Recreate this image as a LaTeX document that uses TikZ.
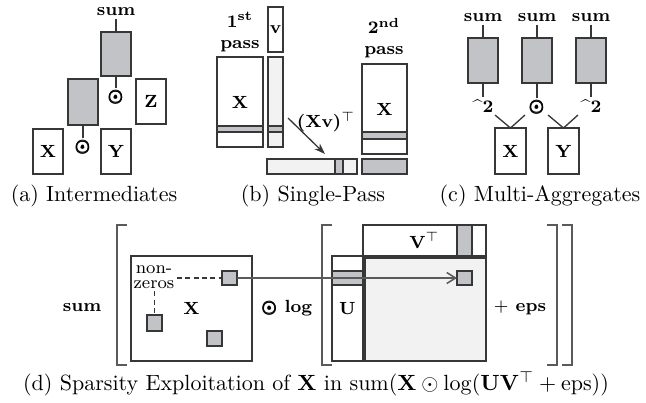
\documentclass[tikz,border=0pt]{standalone}
\usepackage{amsmath}
\usepackage{bm}
\usetikzlibrary{arrows.meta}
\definecolor{lc}{RGB}{55,55,55}
\definecolor{gf}{RGB}{194,195,199}
\definecolor{lf}{RGB}{241,242,241}
\definecolor{ac}{RGB}{90,90,90}
\def\pxu{0.4545pt}
\newcommand\boxat[6]{\node[#1, minimum width={(#4-#2)*\pxu}, minimum height={(#5-#3)*\pxu}] (#6) at ({(#2+#4)/2},{(#3+#5)/2})}
\newcommand\bodot{{\scriptsize$\pmb{\bm{\odot}}$}}
\tikzset{
  wbx/.style={draw=lc, line width=0.6pt, fill=white, inner sep=0pt, outer sep=0pt, font=\footnotesize\bfseries},
  gbx/.style={wbx, fill=gf},
  lbx/.style={wbx, fill=lf},
  lbl/.style={font=\footnotesize\bfseries, inner sep=1pt},
  conn/.style={draw=lc, line width=0.6pt},
  captxt/.style={font=\normalsize, inner sep=0pt},
  brk/.style={draw=ac, line width=0.6pt},
}
\begin{document}
\begin{tikzpicture}[x=\pxu, y=-\pxu]
\useasboundingbox (0,0) rectangle (646,402);
% ---------- (a) ----------
\node[lbl] (sumA) at (116,12) {sum};
\boxat{gbx}{101}{32}{131}{76}{gA1} {};
\node[lbl] (opA1) at (116,97) {\bodot};
\boxat{wbx}{136}{79}{166}{124}{zA} {Z};
\boxat{gbx}{68}{79}{98}{125}{gA2} {};
\node[lbl] (opA2) at (83,147) {\bodot};
\boxat{wbx}{33}{129}{63}{174}{xA} {X};
\boxat{wbx}{101}{129}{131}{174}{yA} {Y};
\draw[conn] (sumA.south) -- (gA1.north);
\draw[conn] (gA1.south) -- (opA1.north);
\draw[conn] (gA2.south) -- (opA2.north);
\node[captxt] (capA) at (94,196) {(a) Intermediates};
% ---------- (b) ----------
\node[lbl, align=center] (p1) at (240,32) {1\textsuperscript{st}\\pass};
\boxat{wbx}{268}{7}{283}{52}{vB} {v};
\boxat{wbx}{217}{57}{263}{147}{x1B} {X};
\boxat{gbx}{217}{126}{263}{132}{b1B} {};
\boxat{lbx}{268}{57}{283}{147}{vcB} {};
\boxat{gbx}{268}{126}{283}{132}{b2B} {};
\boxat{lbx}{267}{159}{357}{174}{rB} {};
\boxat{gbx}{335}{159}{343}{174}{b3B} {};
\boxat{wbx}{362}{64}{407}{154}{x2B} {X};
\boxat{gbx}{362}{132}{407}{139}{b4B} {};
\boxat{gbx}{362}{159}{407}{174}{dB} {};
\node[lbl, align=center] (p2) at (384,38) {2\textsuperscript{nd}\\pass};
\node[lbl] (xvB) at (326,122) {(Xv)$^{\top}$};
\coordinate (aS) at (288,118);
\coordinate (aE) at (325,154);
\draw[conn, -{Stealth[length=5pt, width=3.5pt]}] (aS) -- (aE);
\node[captxt] (capB) at (313,196) {(b) Single-Pass};
% ---------- (c) ----------
\node[lbl] (s1C) at (483,18) {sum};
\node[lbl] (s2C) at (537,18) {sum};
\node[lbl] (s3C) at (591,18) {sum};
\boxat{gbx}{468}{38}{498}{83}{g1C} {};
\boxat{gbx}{522}{38}{552}{83}{g2C} {};
\boxat{gbx}{576}{38}{606}{83}{g3C} {};
\node[lbl] (o1C) at (483,106) {\textasciicircum 2};
\node[lbl] (o2C) at (537,107) {\bodot};
\node[lbl] (o3C) at (591,106) {\textasciicircum 2};
\foreach \i in {1,2,3}{
  \draw[conn] (s\i C.south) -- (g\i C.north);
  \draw[conn] (g\i C.south) -- (o\i C.north);
}
\boxat{wbx}{495}{128}{526}{174}{xC} {X};
\boxat{wbx}{548}{128}{579}{174}{yC} {Y};
\coordinate (v1) at (495,115);
\coordinate (v2) at (525,115);
\coordinate (v3) at (548,115);
\coordinate (v4) at (578,115);
\draw[conn] (v1) -- (xC.north) -- (v2);
\draw[conn] (v3) -- (yC.north) -- (v4);
\node[captxt] (capC) at (540,196) {(c) Multi-Aggregates};
% ---------- (d) ----------
\node[lbl] (sumD) at (82,308) {sum};
\draw[brk] (127,225) -- (117,225) -- (117,365) -- (127,365);
\boxat{wbx}{131}{256}{252}{361}{xD} {X};
\node[font=\footnotesize, align=center, inner sep=1pt] (nzD) at (154,277) {non-\\[-2.5pt]zeros};
\boxat{gbx}{222}{271}{237}{285}{n1D} {};
\boxat{gbx}{147}{315}{162}{331}{n2D} {};
\boxat{gbx}{207}{331}{222}{346}{n3D} {};
\draw[conn, dashed, dash pattern=on 2.2pt off 1.6pt] (nzD.east |- n1D.west) -- (n1D.west);
\draw[conn, dashed, dash pattern=on 2.2pt off 1.6pt] (n2D.north |- nzD.south) -- (n2D.north);
\node[lbl] (odD) at (287,308) {\bodot\ log};
\draw[brk] (332,225) -- (322,225) -- (322,365) -- (332,365);
\boxat{wbx}{363}{225}{486}{256}{vtD} {V$^{\top}$};
\boxat{gbx}{457}{225}{472}{256}{vcD} {};
\boxat{wbx}{332}{256}{363}{361}{uD} {U};
\boxat{gbx}{332}{271}{363}{285}{urD} {};
\boxat{lbx}{365}{258}{486}{361}{rD} {};
\boxat{gbx}{457}{271}{472}{285}{nrD} {};
\node[lbl] (epsD) at (520,308) {$+$ eps};
\draw[brk] (547,225) -- (557,225) -- (557,365) -- (547,365);
\draw[brk] (562,225) -- (572,225) -- (572,365) -- (562,365);
\draw[line width=0.7pt, draw=ac, -{Straight Barb[length=4pt, width=5pt]}] (n1D.east) -- (nrD.west);
\node[captxt] (capD) at (316,384) {(d) Sparsity Exploitation of $\mathbf{X}$ in $\mathrm{sum}(\mathbf{X}\odot\log(\mathbf{U}\mathbf{V}^{\top}+\mathrm{eps}))$};
\end{tikzpicture}
\end{document}
